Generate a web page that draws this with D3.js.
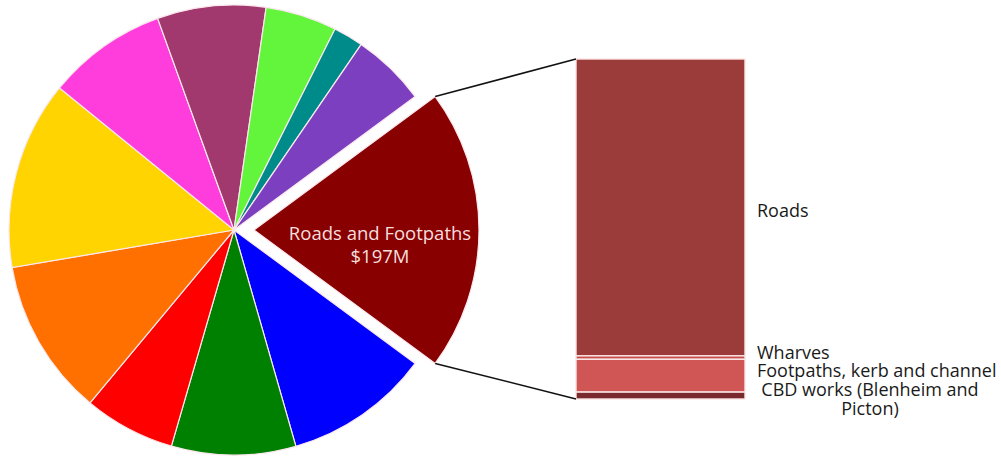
<!DOCTYPE html>
<html>
<head>
<meta charset="utf-8">
<script src="https://cdn.jsdelivr.net/npm/d3@7/dist/d3.min.js"></script>
<style>
  html, body { margin: 0; padding: 0; background: #fff; }
  svg { display: block; }
  text { font-family: "Open Sans", "DejaVu Sans", sans-serif; }
</style>
</head>
<body>
<svg id="chart" width="1001" height="456"></svg>
<script>
// Capital spending by activity group ($M), clockwise from the exploded slice
const groups = ["Roads and Footpaths", "Group B", "Group C", "Group D", "Group E", "Group F",
                "Group G", "Group H", "Group I", "Group J", "Group K"];
const groupValues = [197, 102, 87, 64, 110, 132, 84, 76, 50, 21, 52];
const groupColors = ["#880000", "#0000ff", "#008000", "#ff0000", "#ff7000", "#ffd400",
                     "#ff3cdc", "#a2396e", "#62f53c", "#008b8b", "#7b3fbf"];

// Breakdown of the Roads and Footpaths group ($M), top to bottom
const roadParts = ["Roads", "Wharves", "Footpaths, kerb and channel", "CBD works (Blenheim and Picton)"];
const roadValues = [172, 2, 19, 4];
const roadColors = ["#9c3c3a", "#c44c4a", "#d05555", "#7a2a2e"];

const svg = d3.select("#chart");
const cx = 234, cy = 230, R = 225, explode = 20;

const total = d3.sum(groupValues);
const half = Math.PI * groupValues[0] / total;   // half-angle of the exploded slice
const pie = d3.pie().sort(null).value(d => d)
  .startAngle(Math.PI / 2 - half).endAngle(Math.PI / 2 - half + 2 * Math.PI);
const arcs = pie(groupValues);
const arc = d3.arc().innerRadius(0).outerRadius(R);

const g = svg.append("g").attr("transform", `translate(${cx},${cy})`);
g.selectAll("path").data(arcs).join("path")
  .attr("d", arc)
  .attr("fill", (d, i) => groupColors[i])
  .attr("stroke", "#fbe8ee").attr("stroke-width", 1.2)
  .attr("transform", (d, i) => {
    if (i !== 0) return null;
    const mid = (d.startAngle + d.endAngle) / 2;
    return `translate(${explode * Math.sin(mid)},${-explode * Math.cos(mid)})`;
  });

// Label in the exploded slice
const lab = arcs[0];
const midA = (lab.startAngle + lab.endAngle) / 2;
const lx = cx + explode * Math.sin(midA) + 126;
const ly = cy;
const pieLabel = svg.append("text").attr("text-anchor", "middle")
  .attr("fill", "#f6dede").attr("font-size", 18.5);
pieLabel.append("tspan").attr("x", lx).attr("y", ly + 10).text(groups[0]);
pieLabel.append("tspan").attr("x", lx).attr("y", ly + 33).text("$" + groupValues[0] + "M");

// Stacked bar for the breakdown
const barX0 = 576, barX1 = 745;
const y = d3.scaleLinear().domain([0, d3.sum(roadValues)]).range([59, 399]);
let acc = 0;
const segs = roadValues.map((v, i) => { const s = { i, y0: acc, y1: acc + v }; acc += v; return s; });

svg.append("g").selectAll("rect").data(segs).join("rect")
  .attr("x", barX0).attr("width", barX1 - barX0)
  .attr("y", d => y(d.y0)).attr("height", d => y(d.y1) - y(d.y0))
  .attr("fill", d => roadColors[d.i])
  .attr("stroke", "#fbe6e6").attr("stroke-width", 1.4);

// Connector lines from the slice's outer corners to the bar
const ox = cx + explode * Math.sin(midA), oy = cy - explode * Math.cos(midA);
const p0 = [ox + R * Math.sin(lab.startAngle), oy - R * Math.cos(lab.startAngle)];
const p1 = [ox + R * Math.sin(lab.endAngle), oy - R * Math.cos(lab.endAngle)];
const line = d3.line();
svg.append("path").attr("d", line([p0, [barX0, y(0)]]))
  .attr("stroke", "#111").attr("stroke-width", 1.5).attr("fill", "none");
svg.append("path").attr("d", line([p1, [barX0, y(d3.sum(roadValues))]]))
  .attr("stroke", "#111").attr("stroke-width", 1.5).attr("fill", "none");

// Segment labels
const tx = 757;
const labels = svg.append("g").attr("fill", "#1a1a1a").attr("font-size", 18);
labels.append("text").attr("x", tx).attr("y", 217).text(roadParts[0]);
labels.append("text").attr("x", tx).attr("y", 359).text(roadParts[1]);
labels.append("text").attr("x", tx).attr("y", 377).text(roadParts[2]);
const cbd = labels.append("text").attr("text-anchor", "middle");
cbd.append("tspan").attr("x", 870).attr("y", 396).text("CBD works (Blenheim and");
cbd.append("tspan").attr("x", 870).attr("y", 415).text("Picton)");
</script>
</body>
</html>
